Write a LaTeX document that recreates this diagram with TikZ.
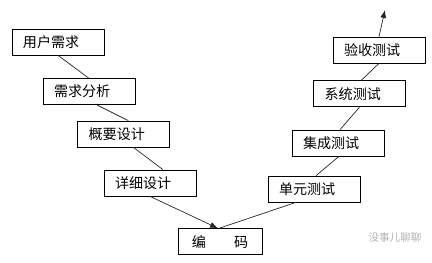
\documentclass[tikz,border=0pt]{standalone}
\usepackage{fontspec}
\setmainfont{Noto Sans CJK SC}
\usetikzlibrary{arrows.meta, positioning, calc}
\tikzset{
    stage/.style   ={rectangle, draw=black, line width=0.6pt, minimum width=2.76cm, minimum height=0.78cm, text width=2.1cm, inner xsep=0.33cm, align=left, font=\fontsize{12}{14}\selectfont},
    link/.style    ={line width=0.6pt, draw=black!85},
    linkarrow/.style={link, -{Latex[length=2.4mm, width=1.8mm]}},
}

\begin{document}
\begin{tikzpicture}
        \useasboundingbox (0,0) rectangle (12.96,-7.89);
        % left branch
        \node[stage] (req) at (1.74,-1.26) {用户需求};
        \node[stage] (ana) at (2.67,-2.75) {需求分析};
        \node[stage] (hld) at (3.71,-4.02) {概要设计};
        \node[stage] (lld) at (4.50,-5.49) {详细设计};
        % bottom
        \node[stage, minimum width=2.52cm, text width=1.86cm, align=center] (code) at (6.60,-7.25) {编\hspace{2em}码};
        % right branch
        \node[stage] (ut) at (9.42,-5.67) {单元测试};
        \node[stage] (it) at (10.14,-4.29) {集成测试};
        \node[stage] (st) at (10.79,-2.81) {系统测试};
        \node[stage] (acc) at (11.37,-1.50) {验收测试};
        \coordinate (top) at (11.55,-0.30);

        % watermark
        \node[text=black!30, font=\fontsize{9}{11}\selectfont] (mark) at (11.85,-7.14) {没事儿聊聊};

        % links
        \draw[link] (req.south) -- (ana.north);
        \draw[link] ([xshift=0.24cm]ana.south) -- ([xshift=0.14cm]hld.north);
        \draw[link] ([xshift=0.29cm]hld.south) -- ([xshift=0.39cm]lld.north);
        \draw[linkarrow] (lld.south) -- ([xshift=-0.06cm]code.north);
        \draw[link] ([xshift=-0.03cm]code.north) -- ([xshift=-0.54cm]ut.south);
        \draw[link] ([xshift=0.06cm]ut.north) -- ([xshift=0.03cm]it.south);
        \draw[link] ([xshift=0.06cm]it.north) -- (st.south);
        \draw[link] ([xshift=0.05cm]st.north) -- (acc.south);
        \draw[linkarrow] (acc.north) -- (top);
    \end{tikzpicture}
\end{document}
